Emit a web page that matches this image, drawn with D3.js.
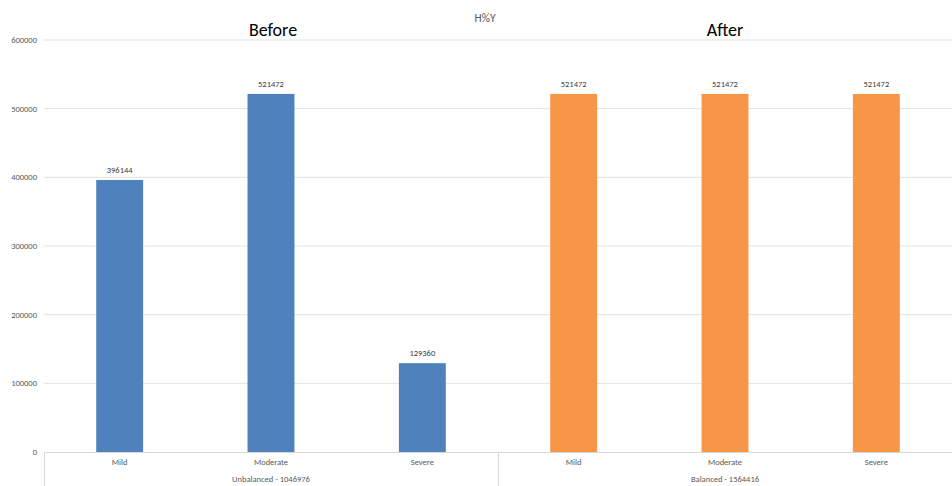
<!DOCTYPE html>
<html>
<head>
<meta charset="utf-8">
<script src="https://cdn.jsdelivr.net/npm/d3@7"></script>
<style>
  body { margin: 0; background: #fff; }
  text { font-family: Carlito, "Liberation Sans", "DejaVu Sans", sans-serif; }
</style>
</head>
<body>
<svg id="chart" width="952" height="486"></svg>
<script>
// Counts per severity class, before and after balancing
const groups = ["Unbalanced - 1046976", "Balanced - 1564416"];
const groupTitles = ["Before", "After"];
const categories = ["Mild", "Moderate", "Severe"];
const beforeValues = [396144, 521472, 129360];
const afterValues = [521472, 521472, 521472];
const yTicks = [0, 100000, 200000, 300000, 400000, 500000, 600000];
const chartTitle = "H%Y";

const colors = ["#4F81BD", "#F79646"];

const svg = d3.select("#chart");
const W = 952, H = 486;
const margin = { left: 44, right: 0, top: 40, bottom: 34 };
const plotBottom = H - margin.bottom;

const rows = [];
[beforeValues, afterValues].forEach((vals, gi) => {
  vals.forEach((v, ci) => rows.push({ key: gi + "-" + ci, group: gi, cat: categories[ci], value: v }));
});

const x = d3.scaleBand()
  .domain(rows.map(d => d.key))
  .range([margin.left, W - margin.right])
  .paddingInner(0.69)
  .paddingOuter(0.345);

const y = d3.scaleLinear()
  .domain([0, 600000])
  .range([plotBottom, margin.top]);

// Horizontal gridlines
svg.append("g")
  .selectAll("line")
  .data(yTicks.filter(t => t > 0))
  .join("line")
  .attr("x1", margin.left).attr("x2", W)
  .attr("y1", d => y(d)).attr("y2", d => y(d))
  .attr("stroke", "#e3e3e3").attr("stroke-width", 1);

// Y tick labels
svg.append("g")
  .selectAll("text")
  .data(yTicks)
  .join("text")
  .attr("x", margin.left - 7)
  .attr("y", d => y(d))
  .attr("dy", "0.35em")
  .attr("text-anchor", "end")
  .attr("font-size", 8.5)
  .attr("fill", "#595959")
  .text(d => d);

// Bars
svg.append("g")
  .selectAll("rect")
  .data(rows)
  .join("rect")
  .attr("x", d => x(d.key))
  .attr("width", x.bandwidth())
  .attr("y", d => y(d.value))
  .attr("height", d => y(0) - y(d.value))
  .attr("fill", d => colors[d.group]);

// Value labels
svg.append("g")
  .selectAll("text")
  .data(rows)
  .join("text")
  .attr("x", d => x(d.key) + x.bandwidth() / 2)
  .attr("y", d => y(d.value) - 7)
  .attr("text-anchor", "middle")
  .attr("font-size", 8.5)
  .attr("fill", "#404040")
  .text(d => d.value);

// Category axis
svg.append("line")
  .attr("x1", margin.left).attr("x2", W)
  .attr("y1", plotBottom + 0.5).attr("y2", plotBottom + 0.5)
  .attr("stroke", "#d9d9d9");

const step = x.step();
const groupEdges = [margin.left, margin.left + step * 3];
svg.append("g")
  .selectAll("line")
  .data(groupEdges)
  .join("line")
  .attr("x1", d => d + 0.5).attr("x2", d => d + 0.5)
  .attr("y1", plotBottom).attr("y2", H)
  .attr("stroke", "#d9d9d9");

svg.append("g")
  .selectAll("text")
  .data(rows)
  .join("text")
  .attr("x", d => x(d.key) + x.bandwidth() / 2)
  .attr("y", plotBottom + 13)
  .attr("text-anchor", "middle")
  .attr("font-size", 8.5)
  .attr("fill", "#595959")
  .text(d => d.cat);

const groupCenter = gi => x(gi + "-1") + x.bandwidth() / 2;

svg.append("g")
  .selectAll("text")
  .data(groups)
  .join("text")
  .attr("x", (d, i) => groupCenter(i))
  .attr("y", plotBottom + 30)
  .attr("text-anchor", "middle")
  .attr("font-size", 8.5)
  .attr("fill", "#595959")
  .text(d => d);

// Group titles
svg.append("g")
  .selectAll("text")
  .data(groupTitles)
  .join("text")
  .attr("x", (d, i) => groupCenter(i) + (i === 0 ? 2 : 0))
  .attr("y", 36)
  .attr("text-anchor", "middle")
  .attr("font-size", 18)
  .attr("fill", "#000")
  .text(d => d);

// Chart title
svg.append("text")
  .attr("x", 485)
  .attr("y", 22)
  .attr("text-anchor", "middle")
  .attr("font-size", 11.5)
  .attr("fill", "#595959")
  .text(chartTitle);
</script>
</body>
</html>
